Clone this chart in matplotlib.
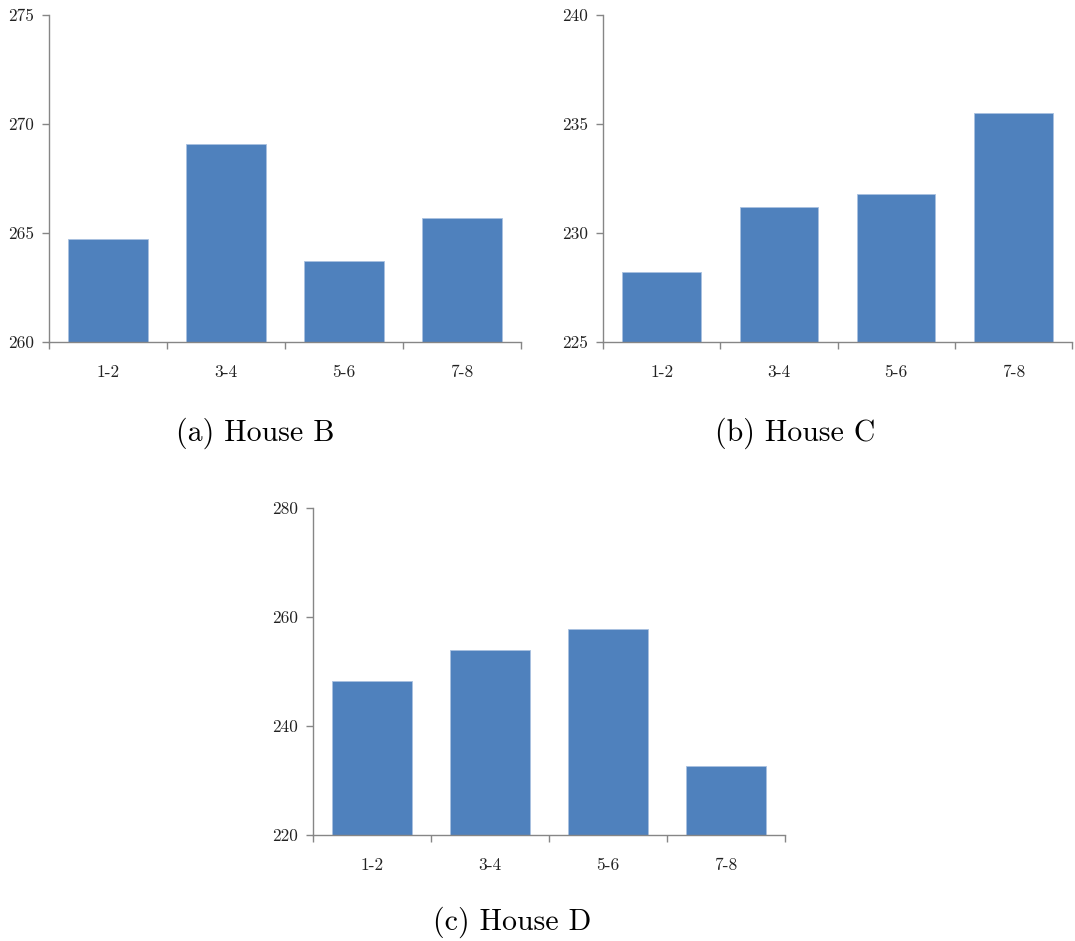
import numpy as np
import matplotlib

matplotlib.use('Agg')
import matplotlib.pyplot as plt

plt.rcParams['font.family'] = 'serif'
plt.rcParams['font.serif'] = ['cmr10']
plt.rcParams['axes.formatter.use_mathtext'] = True

# Пары этажей и средние значения по каждому дому
floors = ['1-2', '3-4', '5-6', '7-8']
house_b = [264.74, 269.06, 263.71, 265.67]
house_c = [228.19, 231.21, 231.78, 235.50]
house_d = [248.2, 253.9, 257.8, 232.6]

ylim_b = (260, 275)
ylim_c = (225, 240)
ylim_d = (220, 280)
step_b, step_c, step_d = 5, 5, 20

BAR_COLOR = '#4F81BD'
AXIS_COLOR = '#868686'


def draw_panel(ax, values, ylim, step):
    """Столбчатая диаграмма в стиле Excel: только левая и нижняя оси."""
    x = np.arange(len(floors))
    ax.bar(x, values, width=0.67, color=BAR_COLOR, edgecolor='#A9C1E0',
           linewidth=0.6, bottom=0)
    ax.set_xlim(-0.5, len(floors) - 0.5)
    ax.set_ylim(*ylim)

    for side in ('top', 'right'):
        ax.spines[side].set_visible(False)
    for side in ('left', 'bottom'):
        ax.spines[side].set_color(AXIS_COLOR)
        ax.spines[side].set_linewidth(1.0)

    yt = np.arange(ylim[0], ylim[1] + step / 2, step)
    ax.set_yticks(yt)
    ax.set_yticklabels([str(int(v)) for v in yt])

    # подписи категорий по центру, риски — на границах категорий
    ax.set_xticks(x)
    ax.set_xticklabels(floors)
    ax.set_xticks(np.arange(-0.5, len(floors)), minor=True)
    ax.tick_params(axis='x', which='major', length=0, pad=16,
                   labelsize=12.5, labelcolor='#222222')
    ax.tick_params(axis='x', which='minor', length=5, width=1.0,
                   color=AXIS_COLOR, direction='out')
    ax.tick_params(axis='y', length=5, width=1.0, color=AXIS_COLOR,
                   direction='out', pad=6, labelsize=12.5,
                   labelcolor='#222222')


fig = plt.figure(figsize=(10.75, 9.41), dpi=100)

W, H = 1075, 941
ax_b = fig.add_axes([49 / W, 1 - 342 / H, 472 / W, 327 / H])
ax_c = fig.add_axes([603 / W, 1 - 342 / H, 469 / W, 327 / H])
ax_d = fig.add_axes([313 / W, 1 - 835 / H, 472 / W, 327 / H])

draw_panel(ax_b, house_b, ylim_b, step_b)
draw_panel(ax_c, house_c, ylim_c, step_c)
draw_panel(ax_d, house_d, ylim_d, step_d)

fig.text(255 / W, 1 - 433 / H, '(a) House B', ha='center', va='center',
         fontsize=21.5)
fig.text(795 / W, 1 - 433 / H, '(b) House C', ha='center', va='center',
         fontsize=21.5)
fig.text(512 / W, 1 - 922 / H, '(c) House D', ha='center', va='center',
         fontsize=21.5)

fig.savefig('out.png', dpi=100, facecolor='white')
plt.close(fig)
